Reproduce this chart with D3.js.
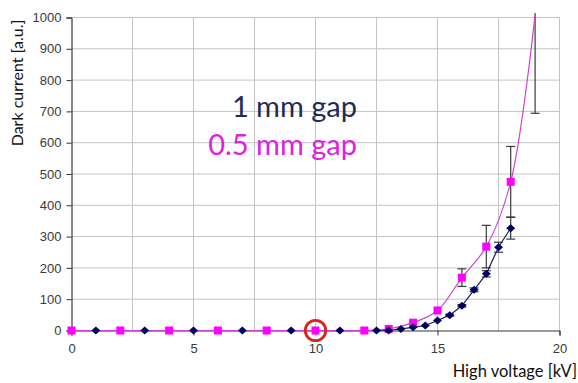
<!DOCTYPE html>
<html>
<head>
<meta charset="utf-8">
<script src="https://cdn.jsdelivr.net/npm/d3@7"></script>
<style>
  body { margin: 0; background: #fff; }
  svg { display: block; }
</style>
</head>
<body>
<div id="container"></div>
<script>
const w = 578;
const h = 383;

// 0.5 mm gap (magenta squares)
const pinkKv = [0, 2, 4, 6, 8, 10, 12, 13, 14, 15, 16, 17, 18, 19];
const pinkCurrent = [0, 0, 0, 0, 0, 0, 0, 5, 25, 64, 169, 268, 475, 1010];
const pinkError = [0, 0, 0, 0, 0, 0, 0, 0, 0, 0, 28, 68, 113, 316];

// 1 mm gap (navy diamonds)
const blueKv = [1, 3, 5, 7, 9, 11, 12.5, 13, 13.5, 14, 14.5, 15, 15.5, 16, 16.5, 17, 17.5, 18];
const blueCurrent = [0, 0, 0, 0, 0, 0, 0, 0, 5, 10, 16, 32, 49, 79, 130, 181, 266, 327];
const blueError = [0, 0, 0, 0, 0, 0, 0, 0, 0, 0, 0, 0, 3, 4, 6, 10, 16, 35];

const xTicks = [0, 5, 10, 15, 20];
const yTicks = [0, 100, 200, 300, 400, 500, 600, 700, 800, 900, 1000];
const xGrid = [2.5, 5, 7.5, 10, 12.5, 15, 17.5];
const markedKv = 10;

const pink = pinkKv.map((k, i) => ({ x: k, y: pinkCurrent[i], e: pinkError[i] }));
const blue = blueKv.map((k, i) => ({ x: k, y: blueCurrent[i], e: blueError[i] }));

const svg = d3.select('#container')
  .append('svg')
  .attr('width', w)
  .attr('height', h)
  .attr('viewBox', [0, 0, w, h]);

const x = d3.scaleLinear().domain([0, 20]).range([71.5, 559.5]);
const y = d3.scaleLinear().domain([0, 1000]).range([330.5, 17.5]);

// grid
svg.append('g')
  .selectAll('line')
  .data(yTicks.slice(1))
  .join('line')
  .attr('x1', x(0)).attr('x2', x(20))
  .attr('y1', d => y(d)).attr('y2', d => y(d))
  .attr('stroke', '#c4c4c4');

svg.append('g')
  .selectAll('line')
  .data(xGrid.concat([20]))
  .join('line')
  .attr('x1', d => x(d)).attr('x2', d => x(d))
  .attr('y1', y(0)).attr('y2', y(1000))
  .attr('stroke', '#c4c4c4');

// axes
const yAxis = d3.axisLeft(y).tickValues(yTicks).tickFormat(d3.format('d')).tickSize(5).tickPadding(5);
const xAxis = d3.axisBottom(x).tickValues(xTicks).tickFormat(d3.format('d')).tickSize(5).tickPadding(8);

svg.append('g')
  .attr('transform', 'translate(' + x(0) + ',0)')
  .call(yAxis)
  .call(g => g.select('.domain').attr('stroke', '#111'))
  .call(g => g.selectAll('.tick line').attr('stroke', '#333'))
  .call(g => g.selectAll('text')
    .attr('font-family', 'Liberation Sans, Arial, sans-serif')
    .attr('font-size', 13)
    .attr('fill', '#3a3a3a'));

svg.append('g')
  .attr('transform', 'translate(0,' + y(0) + ')')
  .call(xAxis)
  .call(g => g.select('.domain').attr('stroke', '#333'))
  .call(g => g.selectAll('.tick line').attr('stroke', '#333'))
  .call(g => g.selectAll('text')
    .attr('font-family', 'Liberation Sans, Arial, sans-serif')
    .attr('font-size', 13)
    .attr('fill', '#3a3a3a'));

// clip slightly above the top so the last point can poke out
svg.append('clipPath')
  .attr('id', 'plot-clip')
  .append('rect')
  .attr('x', 0).attr('y', 13)
  .attr('width', w).attr('height', h);

const plot = svg.append('g').attr('clip-path', 'url(#plot-clip)');

const drawErrors = (data, color) => {
  const g = plot.append('g').attr('stroke', color).attr('stroke-width', 1.2);
  data.filter(d => d.e > 0).forEach(d => {
    const top = d.y + d.e;
    g.append('line')
      .attr('x1', x(d.x)).attr('x2', x(d.x))
      .attr('y1', y(d.y - d.e)).attr('y2', y(top));
    g.append('line')
      .attr('x1', x(d.x) - 4.5).attr('x2', x(d.x) + 4.5)
      .attr('y1', y(d.y - d.e)).attr('y2', y(d.y - d.e));
    g.append('line')
      .attr('x1', x(d.x) - 4.5).attr('x2', x(d.x) + 4.5)
      .attr('y1', y(top)).attr('y2', y(top));
  });
};

const blueLine = d3.line().x(d => x(d.x)).y(d => y(d.y));
const pinkLine = d3.line().x(d => x(d.x)).y(d => y(d.y)).curve(d3.curveCatmullRom.alpha(0.5));

drawErrors(blue, '#3a3a3a');
drawErrors(pink, '#3a3a3a');

plot.append('path')
  .datum(blue)
  .attr('fill', 'none')
  .attr('stroke', '#1a1f5c')
  .attr('stroke-width', 1.2)
  .attr('d', blueLine);

plot.append('path')
  .datum(pink)
  .attr('fill', 'none')
  .attr('stroke', '#d040d0')
  .attr('stroke-width', 1.2)
  .attr('d', pinkLine);

// markers only for points inside the value axis
plot.append('g')
  .selectAll('rect')
  .data(pink.filter(d => d.y <= 1000))
  .join('rect')
  .attr('x', d => x(d.x) - 4)
  .attr('y', d => y(d.y) - 4)
  .attr('width', 8)
  .attr('height', 8)
  .attr('fill', '#ff00ff');

plot.append('g')
  .selectAll('path')
  .data(blue)
  .join('path')
  .attr('transform', d => 'translate(' + x(d.x) + ',' + y(d.y) + ')')
  .attr('d', 'M0,-4L4.5,0L0,4L-4.5,0Z')
  .attr('fill', '#000060');

// red circle marking 10 kV
svg.append('circle')
  .attr('cx', x(markedKv))
  .attr('cy', y(0))
  .attr('r', 10.2)
  .attr('fill', 'none')
  .attr('stroke', '#d8231f')
  .attr('stroke-width', 2.8);

// labels
svg.append('text')
  .attr('x', 357)
  .attr('y', 117)
  .attr('text-anchor', 'end')
  .attr('font-family', 'Lato, sans-serif')
  .attr('font-size', 29)
  .attr('fill', '#1f2a5e')
  .text('1 mm gap');

svg.append('text')
  .attr('x', 357)
  .attr('y', 155)
  .attr('text-anchor', 'end')
  .attr('font-family', 'Lato, sans-serif')
  .attr('font-size', 29)
  .attr('fill', '#e020e0')
  .text('0.5 mm gap');

svg.append('text')
  .attr('transform', 'translate(23,83) rotate(-90)')
  .attr('text-anchor', 'middle')
  .attr('font-family', 'Lato, sans-serif')
  .attr('font-size', 16)
  .attr('fill', '#111')
  .text('Dark current [a.u.]');

svg.append('text')
  .attr('x', 577)
  .attr('y', 377)
  .attr('text-anchor', 'end')
  .attr('font-family', 'Lato, sans-serif')
  .attr('font-size', 16.5)
  .attr('fill', '#111')
  .text('High voltage [kV]');
</script>
</body>
</html>
